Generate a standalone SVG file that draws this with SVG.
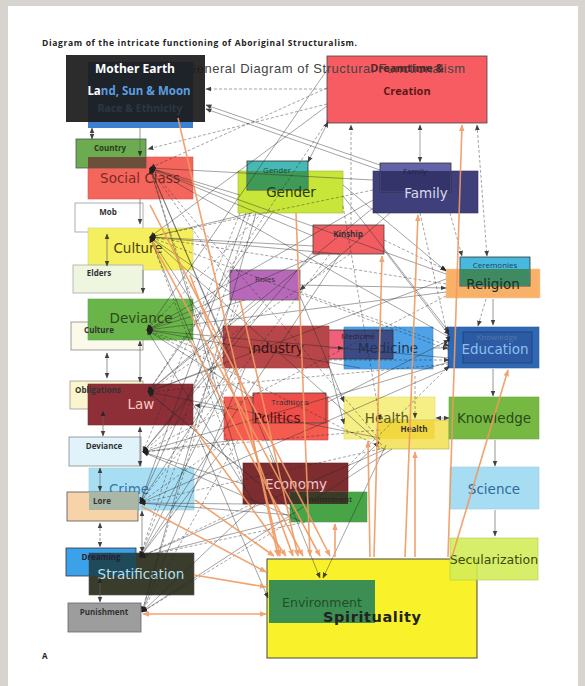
<svg xmlns="http://www.w3.org/2000/svg" width="585" height="686" viewBox="0 0 585 686">
<defs>
<style>
.s{font-family:"Open Sans","DejaVu Sans",sans-serif;font-weight:700;font-size:8px;text-anchor:middle}
.b{font-family:"DejaVu Sans","Liberation Sans",sans-serif;font-size:13.5px;text-anchor:middle}
.k line{stroke:#2a2a2a;stroke-width:.5;fill:none;opacity:.85;marker-end:url(#ah)}
.k line.d{stroke-dasharray:3 2}
.k line.g{stroke:#666;stroke-width:.8}
.k line.x{marker-start:url(#ah)}
.o line{stroke:#f09a62;stroke-width:1.6;opacity:.9;marker-end:url(#oh)}
.o line.x{marker-start:url(#oh)}
</style>
<marker id="ah" viewBox="0 0 10 10" refX="9" refY="5" markerWidth="6" markerHeight="6" markerUnits="userSpaceOnUse" orient="auto-start-reverse"><path d="M0,1 L10,5 L0,9z" fill="#222"/></marker>
<marker id="oh" viewBox="0 0 10 10" refX="9" refY="5" markerWidth="7" markerHeight="7" markerUnits="userSpaceOnUse" orient="auto-start-reverse"><path d="M0,1 L10,5 L0,9z" fill="#f09a62"/></marker>
</defs>

<!-- page -->
<rect width="585" height="686" fill="#d7d4cf"/>
<rect x="8" y="6" width="570" height="680" fill="#fff"/>
<text x="42" y="46" font-family="Open Sans, DejaVu Sans, sans-serif" font-weight="700" font-size="8.5" fill="#222" textLength="315">Diagram of the intricate functioning of Aboriginal Structuralism.</text>
<text x="42" y="659" font-family="Open Sans, DejaVu Sans, sans-serif" font-weight="700" font-size="8" fill="#222">A</text>

<g id="dreamtime">
<rect x="327" y="56" width="160" height="67" fill="#f65c61" stroke="#444" stroke-width=".8"/>
<text x="407" y="72" class="s" style="font-size:11px;fill:#5a1a1a">Dreamtime &amp;</text>
<text x="407" y="95" class="s" style="font-size:11px;fill:#5a1a1a">Creation</text>
</g>
<text x="186" y="73" font-family="Liberation Sans, Arial, sans-serif" font-size="13" fill="#444" textLength="279">General Diagram of Structural Functionalism</text>

<g id="mother-earth">
<rect x="88" y="62" width="105" height="66" fill="#3d7fd0"/>
<rect x="66" y="55" width="139" height="67" fill="#1c1c1c" opacity=".93"/>
<text x="140" y="112" class="s" style="font-size:10.5px;fill:#5a7aa6" opacity=".22">Race &amp; Ethnicity</text>
<text x="135" y="73" class="s" style="font-size:12px;fill:#fff">Mother Earth</text>
<text x="139" y="95" class="s" style="font-size:11.5px;fill:#5a9ee0"><tspan style="fill:#fff">La</tspan>nd, Sun &amp; Moon</text>
</g>

<g id="social-class">
<rect x="88" y="157" width="105" height="42" fill="#f4665c" stroke="#d55" stroke-width=".6"/>
<text x="140" y="183" class="b" fill="#7a2a25">Social Class</text>
</g>
<g id="country">
<rect x="76" y="139" width="70" height="29" fill="#6cab4f" stroke="#555" stroke-width=".8"/>
<rect x="88" y="157" width="58" height="11" fill="#6b4f3a"/>
<text x="110" y="151" class="s" fill="#2a3a1a">Country</text>
</g>
<g id="mob">
<rect x="75" y="203" width="68" height="29" fill="#fff" stroke="#999" stroke-width=".8"/>
<text x="108" y="215" class="s" fill="#333">Mob</text>
</g>
<g id="culture">
<rect x="88" y="228" width="105" height="42" fill="#f5ef5d" stroke="#cc9" stroke-width=".6"/>
<text x="138" y="253" class="b" fill="#4a4210">Culture</text>
</g>
<g id="elders">
<rect x="73" y="265" width="70" height="28" fill="#eef6df" stroke="#aaa" stroke-width=".8"/>
<text x="99" y="276" class="s" fill="#333">Elders</text>
</g>
<g id="deviance">
<rect x="71" y="322" width="72" height="28" fill="#fbf9ea" stroke="#888" stroke-width=".8"/>
<rect x="88" y="299" width="105" height="41" fill="#6ab54a" stroke="#5a5" stroke-width=".6"/>
<text x="141" y="323" class="b" fill="#2a4a18">Deviance</text>
<text x="99" y="333" class="s" fill="#333">Culture</text>
</g>
<g id="law">
<rect x="70" y="381" width="73" height="28" fill="#fbf5cc" stroke="#999" stroke-width=".8"/>
<rect x="88" y="384" width="105" height="41" fill="#8e2f38" stroke="#733" stroke-width=".6"/>
<text x="98" y="393" class="s" fill="#333">Obligations</text>
<text x="141" y="409" class="b" fill="#f6c8c0">Law</text>
</g>
<g id="deviance-2">
<rect x="69" y="437" width="72" height="29" fill="#e0f3fb" stroke="#888" stroke-width=".8"/>
<text x="104" y="449" class="s" fill="#333">Deviance</text>
</g>
<g id="crime">
<rect x="89" y="468" width="105" height="42" fill="#a8def3" stroke="#9cc" stroke-width=".6"/>
<text x="129" y="494" class="b" fill="#3a78a8">Crime</text>
</g>
<g id="lore">
<rect x="67" y="492" width="71" height="29" fill="#f6d3a8" stroke="#555" stroke-width=".8"/>
<rect x="89" y="492" width="49" height="18" fill="#aab6a6"/>
<text x="102" y="504" class="s" fill="#333">Lore</text>
</g>
<g id="stratification">
<rect x="66" y="548" width="70" height="28" fill="#3ba2ea" stroke="#333" stroke-width=".8"/>
<rect x="89" y="553" width="105" height="42" fill="#3a3d2b" stroke="#555" stroke-width=".6"/>
<rect x="89" y="553" width="47" height="23" fill="#1f4a5a"/>
<text x="101" y="560" class="s" fill="#223">Dreaming</text>
<text x="141" y="579" class="b" fill="#b4e0f2">Stratification</text>
</g>
<g id="punishment">
<rect x="68" y="603" width="73" height="29" fill="#9d9d9d" stroke="#666" stroke-width=".8"/>
<text x="104" y="615" class="s" fill="#333">Punishment</text>
</g>

<g id="gender">
<rect x="238" y="171" width="105" height="42" fill="#c8e63a" stroke="#9b3" stroke-width=".6"/>
<rect x="247" y="161" width="61" height="29" fill="#46b8b5" stroke="#333" stroke-width=".8"/>
<rect x="247.5" y="171" width="60" height="18.5" fill="#3f9a57"/>
<text x="277" y="173" class="s" style="font-weight:400;fill:#244">Gender</text>
<text x="291" y="197" class="b" fill="#2a3a10">Gender</text>
</g>
<g id="family">
<rect x="373" y="171" width="105" height="42" fill="#3f3f7c" stroke="#335" stroke-width=".6"/>
<rect x="380" y="163" width="71" height="29" fill="#6363a8" stroke="#333" stroke-width=".8"/>
<rect x="380.5" y="171" width="70" height="20.5" fill="#34346a"/>
<text x="415" y="174" class="s" style="font-weight:400;fill:#224">Family</text>
<text x="426" y="198" class="b" fill="#d8d8f0">Family</text>
</g>
<g id="kinship">
<rect x="313" y="225" width="71" height="29" fill="#f25d62" stroke="#444" stroke-width=".8"/>
<text x="348" y="237" class="s" fill="#333">Kinship</text>
</g>
<g id="roles">
<rect x="230" y="270" width="70" height="30" fill="#b868b8" stroke="#666" stroke-width=".8"/>
<text x="265" y="282" class="s" style="font-weight:400;fill:#333">Roles</text>
</g>
<g id="religion">
<rect x="446" y="269" width="94" height="29" fill="#f8b167" stroke="#eca" stroke-width=".6"/>
<rect x="460" y="257" width="70" height="29" fill="#47b9df" stroke="#333" stroke-width=".8"/>
<rect x="460.5" y="269" width="69" height="16.5" fill="#3f8a60"/>
<text x="495" y="268" class="s" style="font-weight:400;fill:#245">Ceremonies</text>
<text x="493" y="289" class="b" fill="#1e2e1e">Religion</text>
</g>
<g id="industry">
<rect x="324" y="330" width="69" height="29" fill="#f0607a" stroke="#333" stroke-width=".8"/>
<rect x="223" y="326" width="106" height="42" fill="#b64648" stroke="#944" stroke-width=".6"/>
<text x="276" y="353" class="b" fill="#3a1010">Industry</text>
</g>
<g id="medicine">
<rect x="344" y="327" width="89" height="42" fill="#4ea3e8" stroke="#48c" stroke-width=".6"/>
<rect x="344" y="330" width="49" height="29" fill="#3c4a86" stroke="#333" stroke-width=".8"/>
<text x="358" y="339" class="s" style="font-weight:400;fill:#322">Medicine</text>
<text x="388" y="353" class="b" fill="#223355">Medicine</text>
</g>
<g id="education">
<rect x="448" y="327" width="91" height="41" fill="#2f68b3" stroke="#2a5aa0" stroke-width=".6"/>
<rect x="463" y="332" width="69" height="31" fill="#2c5aa3" stroke="#203c7a" stroke-width=".8"/>
<text x="497" y="340" class="s" style="font-weight:400;fill:#5577aa">Knowledge</text>
<text x="495" y="354" class="b" fill="#8fc0f0">Education</text>
</g>
<g id="politics">
<rect x="224" y="397" width="104" height="43" fill="#f55c50" stroke="#d44" stroke-width=".6"/>
<rect x="253" y="393" width="73" height="30" fill="#ef4f48" stroke="#444" stroke-width=".8"/>
<text x="290" y="405" class="s" style="font-weight:400;fill:#333">Traditions</text>
<text x="277" y="423" class="b" fill="#5a1010">Politics</text>
</g>
<g id="health">
<rect x="344" y="397" width="91" height="42" fill="#f6ef86" stroke="#dd6" stroke-width=".6"/>
<rect x="378" y="420" width="71" height="29" fill="#f5e46a" stroke="#aa4" stroke-width=".6"/>
<rect x="378.5" y="420.5" width="56" height="18.5" fill="#f1d840"/>
<text x="387" y="423" class="b" fill="#5a5a20">Health</text>
<text x="414" y="432" class="s" fill="#333">Health</text>
</g>
<g id="knowledge">
<rect x="449" y="397" width="90" height="42" fill="#77b843" stroke="#6a4" stroke-width=".6"/>
<text x="494" y="423" class="b" fill="#2a4a1a">Knowledge</text>
</g>
<g id="science">
<rect x="450" y="467" width="89" height="42" fill="#a6ddf3" stroke="#9cd" stroke-width=".6"/>
<text x="494" y="494" class="b" fill="#2f6a9a">Science</text>
</g>
<g id="economy">
<rect x="243" y="463" width="105" height="41" fill="#7d2c30" stroke="#622" stroke-width=".6"/>
<rect x="290" y="492" width="77" height="30" fill="#47a447" stroke="#595" stroke-width=".6"/>
<rect x="290" y="492" width="58" height="12" fill="#3b3a26"/>
<text x="296" y="489" class="b" fill="#f0c8c8">Economy</text>
<text x="328" y="502" class="s" style="font-weight:400;fill:#222">Environment</text>
</g>
<g id="spirituality">
<rect x="267" y="559" width="210" height="99" fill="#f9f22a" stroke="#333" stroke-width=".9"/>
<rect x="269" y="580" width="106" height="43" fill="#3d8e52"/>
<text x="322" y="607" font-family="DejaVu Sans, sans-serif" font-size="12.5" fill="#1e4e2a" text-anchor="middle">Environment</text>
<text x="372" y="622" font-family="DejaVu Sans, sans-serif" font-weight="700" font-size="14.5" fill="#222" text-anchor="middle" textLength="98">Spirituality</text>
</g>
<g id="secularization">
<rect x="450" y="538" width="88" height="42" fill="#d2ec57" stroke="#ac4" stroke-width=".6" fill-opacity=".88"/>
<text x="494" y="564" class="b" fill="#3a4a10" style="font-size:12.5px">Secularization</text>
</g>

<g id="connectors">
<g class="k">
<!-- left column links -->
<line class="g x" x1="92" y1="128" x2="92" y2="139"/>
<line class="g" x1="140" y1="128" x2="140" y2="156"/>
<line class="g" x1="140" y1="199" x2="140" y2="224"/>
<line class="g" x1="143" y1="270" x2="143" y2="293"/>
<line class="g x" x1="107" y1="234" x2="107" y2="266"/>
<line class="g x" x1="107" y1="353" x2="107" y2="378"/>
<line class="g x" x1="140" y1="341" x2="140" y2="382"/>
<line class="g x" x1="103" y1="411" x2="103" y2="436"/>
<line class="g x" x1="140" y1="427" x2="140" y2="466"/>
<line class="g x" x1="100" y1="468" x2="100" y2="491"/>
<line class="g x d" x1="100" y1="523" x2="100" y2="547"/>
<line class="g x" x1="100" y1="578" x2="100" y2="602"/>
<line class="g x" x1="142" y1="511" x2="142" y2="552"/>
<!-- right column links -->
<line class="x" x1="420" y1="125" x2="420" y2="162"/>
<line class="d" x1="351" y1="225" x2="351" y2="125"/>
<line class="d x" x1="477" y1="125" x2="487" y2="256"/>
<line class="g" x1="493" y1="299" x2="493" y2="325"/>
<line class="d" x1="486" y1="299" x2="478" y2="326"/>
<line class="g" x1="493" y1="369" x2="493" y2="396"/>
<line class="g" x1="495" y1="440" x2="495" y2="466"/>
<line class="g" x1="495" y1="510" x2="495" y2="536"/>
<line x1="433" y1="348" x2="448" y2="348"/>
<line x1="329" y1="348" x2="343" y2="348"/>
<line class="x" x1="436" y1="418" x2="449" y2="418"/>
<line class="d" x1="415" y1="376" x2="415" y2="418"/>
<!-- top links -->
<line class="d" x1="327" y1="89" x2="206" y2="89"/>
<line x1="380" y1="165" x2="206" y2="105"/>
<line x1="380" y1="170" x2="206" y2="109"/>
<line class="d" x1="327" y1="104" x2="148" y2="149"/>
<line class="x" x1="328" y1="122" x2="308" y2="162"/>
<line class="d" x1="450" y1="213" x2="462" y2="256"/>
<!-- links into Social Class -->
<line class="d" x1="327" y1="88" x2="150" y2="168"/>
<line x1="373" y1="180" x2="150" y2="168"/>
<line x1="240" y1="195" x2="150" y2="168"/>
<line x1="313" y1="236" x2="150" y2="168"/>
<line class="d" x1="230" y1="283" x2="150" y2="168"/>
<line x1="446" y1="274" x2="150" y2="168"/>
<line x1="223" y1="338" x2="150" y2="168"/>
<line class="d" x1="226" y1="408" x2="150" y2="168"/>
<line x1="243" y1="476" x2="150" y2="168"/>
<line class="d" x1="380" y1="440" x2="150" y2="168"/>
<line x1="449" y1="337" x2="150" y2="168"/>
<line x1="291" y1="500" x2="150" y2="168"/>
<!-- links into Culture -->
<line x1="327" y1="106" x2="150" y2="237"/>
<line class="d" x1="373" y1="190" x2="150" y2="237"/>
<line x1="252" y1="213" x2="150" y2="237"/>
<line x1="313" y1="246" x2="150" y2="237"/>
<line x1="230" y1="292" x2="150" y2="237"/>
<line class="d" x1="446" y1="284" x2="150" y2="237"/>
<line x1="223" y1="350" x2="150" y2="237"/>
<line x1="224" y1="416" x2="150" y2="237"/>
<line class="d" x1="245" y1="488" x2="150" y2="237"/>
<line x1="382" y1="445" x2="150" y2="237"/>
<line class="d" x1="449" y1="350" x2="150" y2="237"/>
<line x1="340" y1="254" x2="150" y2="237"/>
<!-- links into Deviance -->
<line x1="327" y1="70" x2="147" y2="330"/>
<line x1="373" y1="200" x2="147" y2="330"/>
<line class="d" x1="262" y1="213" x2="147" y2="330"/>
<line x1="320" y1="254" x2="147" y2="330"/>
<line x1="245" y1="300" x2="147" y2="330"/>
<line x1="446" y1="292" x2="147" y2="330"/>
<line class="d" x1="224" y1="358" x2="147" y2="330"/>
<line x1="253" y1="398" x2="147" y2="330"/>
<line x1="255" y1="504" x2="147" y2="330"/>
<line class="d" x1="384" y1="449" x2="147" y2="330"/>
<line x1="449" y1="358" x2="147" y2="330"/>
<line x1="360" y1="368" x2="147" y2="330"/>
<!-- links into Law -->
<line class="d" x1="328" y1="120" x2="148" y2="392"/>
<line x1="373" y1="208" x2="148" y2="392"/>
<line x1="272" y1="213" x2="148" y2="392"/>
<line class="d" x1="350" y1="254" x2="148" y2="392"/>
<line x1="255" y1="300" x2="148" y2="392"/>
<line x1="446" y1="279" x2="148" y2="392"/>
<line x1="225" y1="364" x2="148" y2="392"/>
<line class="d" x1="243" y1="470" x2="148" y2="392"/>
<line x1="380" y1="438" x2="148" y2="392"/>
<line class="d" x1="449" y1="364" x2="148" y2="392"/>
<line x1="291" y1="510" x2="148" y2="392"/>
<line x1="224" y1="410" x2="195" y2="405"/>
<!-- links into the lower Deviance -->
<line class="d" x1="240" y1="213" x2="143" y2="452"/>
<line x1="313" y1="252" x2="143" y2="452"/>
<line x1="265" y1="300" x2="143" y2="452"/>
<line class="d" x1="240" y1="368" x2="143" y2="452"/>
<line x1="235" y1="440" x2="143" y2="452"/>
<line x1="243" y1="484" x2="143" y2="452"/>
<line class="d" x1="379" y1="430" x2="143" y2="452"/>
<line x1="449" y1="362" x2="143" y2="452"/>
<line class="d" x1="446" y1="296" x2="143" y2="452"/>
<line x1="300" y1="521" x2="143" y2="452"/>
<!-- links into Lore -->
<line x1="246" y1="213" x2="140" y2="503"/>
<line class="d" x1="330" y1="254" x2="140" y2="503"/>
<line x1="232" y1="300" x2="140" y2="503"/>
<line x1="230" y1="368" x2="140" y2="503"/>
<line class="d" x1="228" y1="440" x2="140" y2="503"/>
<line x1="248" y1="504" x2="140" y2="503"/>
<line x1="291" y1="515" x2="140" y2="503"/>
<line class="d" x1="380" y1="449" x2="140" y2="503"/>
<line x1="449" y1="368" x2="140" y2="503"/>
<!-- links into Stratification -->
<line class="d" x1="250" y1="213" x2="140" y2="557"/>
<line x1="340" y1="254" x2="140" y2="557"/>
<line class="d" x1="240" y1="300" x2="140" y2="557"/>
<line x1="235" y1="368" x2="140" y2="557"/>
<line x1="230" y1="440" x2="140" y2="557"/>
<line class="d" x1="252" y1="504" x2="140" y2="557"/>
<line x1="291" y1="519" x2="140" y2="557"/>
<line x1="386" y1="449" x2="140" y2="557"/>
<line class="d" x1="305" y1="522" x2="140" y2="557"/>
<!-- links into Punishment -->
<line x1="256" y1="213" x2="142" y2="612"/>
<line class="d" x1="236" y1="300" x2="142" y2="612"/>
<line x1="245" y1="368" x2="142" y2="612"/>
<line class="d" x1="238" y1="440" x2="142" y2="612"/>
<line x1="256" y1="504" x2="142" y2="612"/>
<line class="d" x1="291" y1="521" x2="142" y2="612"/>
<line x1="392" y1="449" x2="142" y2="612"/>
<!-- links across the middle -->
<line x1="343" y1="185" x2="446" y2="271"/>
<line x1="343" y1="196" x2="449" y2="332"/>
<line class="d" x1="343" y1="206" x2="380" y2="420"/>
<line x1="390" y1="213" x2="300" y2="290"/>
<line class="d" x1="420" y1="213" x2="449" y2="342"/>
<line class="d" x1="384" y1="240" x2="446" y2="270"/>
<line x1="384" y1="250" x2="449" y2="335"/>
<line x1="300" y1="285" x2="446" y2="288"/>
<line class="d" x1="300" y1="292" x2="449" y2="346"/>
<line x1="300" y1="296" x2="344" y2="402"/>
<line class="d" x1="329" y1="360" x2="449" y2="360"/>
<line x1="329" y1="366" x2="344" y2="424"/>
<line x1="328" y1="402" x2="449" y2="340"/>
<line x1="348" y1="472" x2="379" y2="442"/>
<line class="d" x1="348" y1="466" x2="449" y2="366"/>
<line x1="270" y1="455" x2="320" y2="578"/>
<line x1="386" y1="445" x2="323" y2="578"/>
<line x1="200" y1="440" x2="268" y2="598"/>
</g>
<g class="o">
<line x1="178" y1="118" x2="280" y2="556"/>
<line x1="150" y1="205" x2="330" y2="556"/>
<line x1="152" y1="242" x2="320" y2="556"/>
<line x1="190" y1="275" x2="293" y2="556"/>
<line x1="190" y1="340" x2="303" y2="556"/>
<line x1="192" y1="425" x2="286" y2="556"/>
<line x1="195" y1="500" x2="274" y2="556"/>
<line x1="141" y1="506" x2="266" y2="572"/>
<line x1="194" y1="575" x2="266" y2="587"/>
<line class="x" x1="143" y1="614" x2="266" y2="614"/>
<line x1="296" y1="213" x2="310" y2="556"/>
<line x1="240" y1="300" x2="298" y2="556"/>
<line x1="253" y1="440" x2="278" y2="556"/>
<line x1="335" y1="557" x2="335" y2="524"/>
<line x1="370" y1="557" x2="368" y2="441"/>
<line x1="374" y1="557" x2="382" y2="256"/>
<line x1="415" y1="557" x2="415" y2="452"/>
<line x1="405" y1="557" x2="418" y2="215"/>
<line x1="448" y1="557" x2="462" y2="125"/>
<line x1="452" y1="557" x2="508" y2="370"/>
</g>
</g>
</svg>
